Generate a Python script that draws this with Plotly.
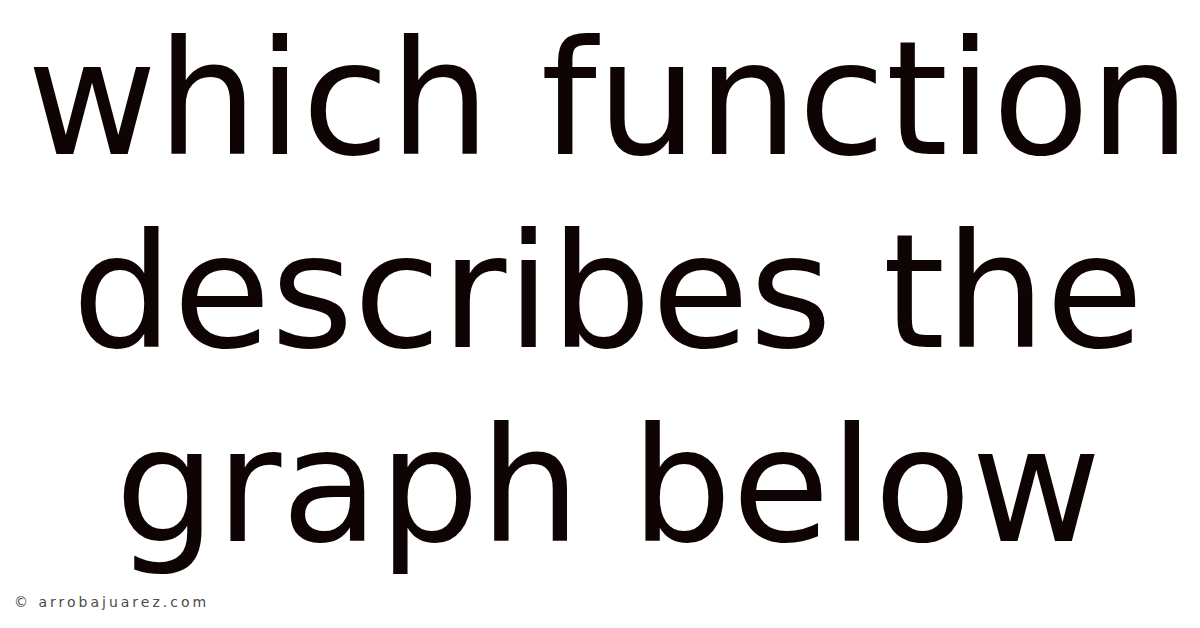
import plotly.graph_objects as go

# text content of the card
title_lines = ["which function", "describes the", "graph below"]
line_centers = [90, 283, 477]  # pixel rows, measured from top
credit = "© arrobajuarez.com"

fig = go.Figure()

for line, yc in zip(title_lines, line_centers):
    fig.add_annotation(
        text=line,
        x=600, y=yc,
        xref="x", yref="y",
        xanchor="center", yanchor="middle",
        showarrow=False,
        font=dict(family="DejaVu Sans", size=159, color="#0f0404"),
    )

fig.add_annotation(
    text='<span style="letter-spacing:3px">' + credit + "</span>",
    x=0, y=594,
    xref="paper", yref="y",
    xanchor="left", yanchor="middle",
    xshift=4,
    showarrow=False,
    font=dict(family="DejaVu Sans", size=14, color="#4a4a4a"),
)

fig.update_xaxes(range=[0, 1200], visible=False, fixedrange=True)
fig.update_yaxes(range=[628, 0], visible=False, fixedrange=True)
fig.update_layout(
    width=1200, height=628,
    margin=dict(l=0, r=0, t=0, b=0),
    paper_bgcolor="white",
    plot_bgcolor="white",
    showlegend=False,
)

fig.write_html("out.html")
